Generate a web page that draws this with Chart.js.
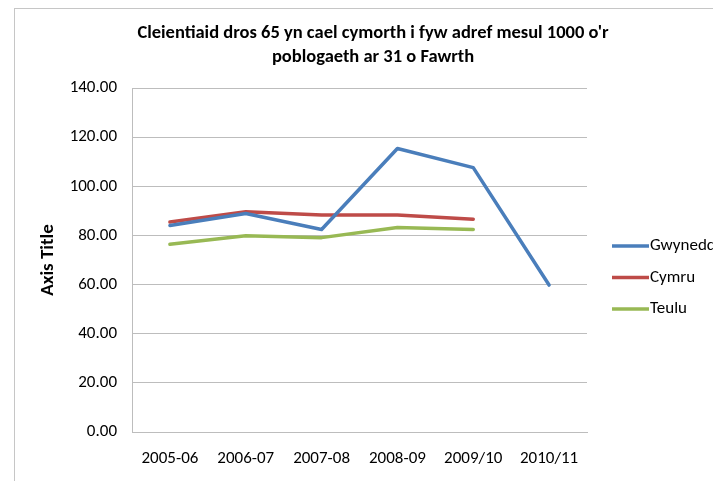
<!DOCTYPE html>
<html>
<head>
<meta charset="utf-8">
<script src="https://cdn.jsdelivr.net/npm/chart.js@4"></script>
<style>
    html, body { margin: 0; padding: 0; background: #fff; overflow: hidden; }
    #frame { position: absolute; left: 14px; top: 8px; width: 720px; height: 500px; border: 1px solid #c6c6c6; box-sizing: border-box; }
    #chart { position: absolute; left: 0; top: 0; }
</style>
</head>
<body>
<div id="frame"></div>
<canvas id="chart" width="713" height="481"></canvas>
<script>
// Datos del gráfico
const years = ['2005-06', '2006-07', '2007-08', '2008-09', '2009/10', '2010/11'];
const gwynedd = [84.0, 88.9, 82.4, 115.4, 107.6, 59.8];
const cymru = [85.5, 89.6, 88.3, 88.3, 86.6, null];
const teulu = [76.4, 79.9, 79.1, 83.2, 82.4, null];
const titleLines = ["Cleientiaid dros 65 yn cael cymorth i fyw adref mesul 1000 o'r", 'poblogaeth ar 31 o Fawrth'];

const FONT = "'Liberation Sans Narrow', 'Carlito', 'Open Sans', sans-serif";

// Título y leyenda dibujados a mano, como en Excel
const decor = {
    id: 'decor',
    afterDraw(chart) {
        const ctx = chart.ctx;
        ctx.save();
        ctx.fillStyle = '#000';
        ctx.textAlign = 'center';
        ctx.textBaseline = 'middle';
        ctx.font = 'bold 18.5px ' + FONT;
        ctx.fillText(titleLines[0], 373, 33);
        ctx.fillText(titleLines[1], 373, 57);

        ctx.textAlign = 'left';
        ctx.font = '17px ' + FONT;
        chart.data.datasets.forEach(function(ds, i) {
            const y = 246 + i * 31.5;
            ctx.strokeStyle = ds.borderColor;
            ctx.lineWidth = 3.5;
            ctx.beginPath();
            ctx.moveTo(612, y);
            ctx.lineTo(649, y);
            ctx.stroke();
            ctx.fillText(ds.label, 650, y);
        });
        ctx.restore();
    }
};

const ctx = document.getElementById('chart').getContext('2d');
const chart = new Chart(ctx, {
    type: 'line',
    data: {
        labels: years,
        datasets: [
            { label: 'Gwynedd', data: gwynedd, borderColor: '#4a7ebb', backgroundColor: '#4a7ebb' },
            { label: 'Cymru', data: cymru, borderColor: '#be4b48', backgroundColor: '#be4b48' },
            { label: 'Teulu', data: teulu, borderColor: '#98b954', backgroundColor: '#98b954' }
        ]
    },
    options: {
        responsive: false,
        animation: false,
        events: [],
        elements: {
            line: { borderWidth: 3.5, tension: 0, borderJoinStyle: 'round', borderCapStyle: 'round' },
            point: { radius: 0 }
        },
        layout: {
            padding: { top: 88, left: 34, right: 126, bottom: 12 }
        },
        plugins: {
            legend: { display: false },
            title: { display: false },
            tooltip: { enabled: false }
        },
        scales: {
            x: {
                offset: true,
                grid: { display: false, drawTicks: false, tickLength: 0 },
                border: { display: true, color: '#bdbdbd' },
                ticks: {
                    color: '#000',
                    padding: 17,
                    maxRotation: 0,
                    font: { family: FONT, size: 17 }
                },
                afterFit(scale) { scale.height = 37; }
            },
            y: {
                min: 0,
                max: 140,
                grid: { color: '#bdbdbd', drawTicks: false, tickLength: 0 },
                border: { display: true, color: '#bdbdbd' },
                ticks: {
                    stepSize: 20,
                    color: '#000',
                    padding: 15,
                    font: { family: FONT, size: 17 },
                    callback: function(v) { return v.toFixed(2); }
                },
                title: {
                    display: true,
                    text: 'Axis Title',
                    color: '#000',
                    padding: { top: 3, bottom: 0 },
                    font: { family: FONT, size: 19, weight: 'bold' }
                },
                afterFit(scale) { scale.width = 98; }
            }
        }
    },
    plugins: [decor]
});
</script>
</body>
</html>
